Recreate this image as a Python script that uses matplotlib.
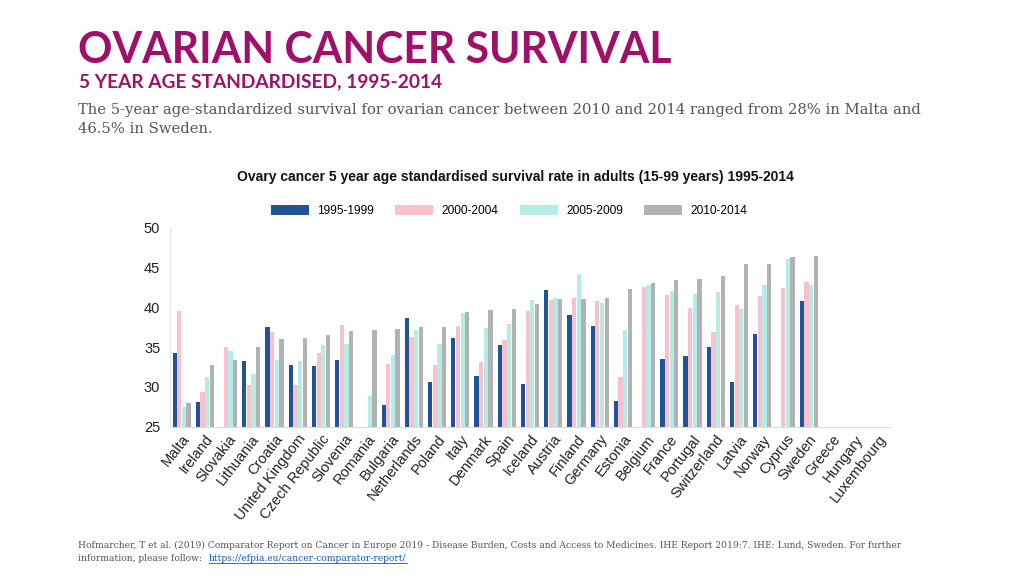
import numpy as np
import matplotlib.pyplot as plt
from matplotlib.patches import Patch

countries = ['Malta', 'Ireland', 'Slovakia', 'Lithuania', 'Croatia', 'United Kingdom',
             'Czech Republic', 'Slovenia', 'Romania', 'Bulgaria', 'Netherlands', 'Poland',
             'Italy', 'Denmark', 'Spain', 'Iceland', 'Austria', 'Finland', 'Germany',
             'Estonia', 'Belgium', 'France', 'Portugal', 'Switzerland', 'Latvia', 'Norway',
             'Cyprus', 'Sweden', 'Greece', 'Hungary', 'Luxembourg']
nan = np.nan
p1995 = [34.2, 28.1, nan, 33.2, 37.5, 32.8, 32.6, 33.4, nan, 27.7, 38.7, 30.6,
         36.1, 31.3, 35.3, 30.4, 42.2, 39.1, 37.7, 28.2, nan, 33.5, 33.9, 35.0,
         30.6, 36.7, nan, 40.8, nan, nan, nan]
p2000 = [39.6, 29.4, 35.0, 30.2, 36.9, 30.2, 34.3, 37.8, nan, 32.9, 36.3, 32.7,
         37.7, 33.1, 35.9, 39.6, 40.9, 41.2, 40.8, 31.2, 42.6, 41.5, 39.9, 36.9,
         40.3, 41.4, 42.5, 43.2, nan, nan, nan]
p2005 = [27.5, 31.2, 34.5, 31.6, 33.4, 33.2, 35.3, 35.4, 28.8, 34.0, 37.1, 35.4,
         39.3, 37.4, 37.9, 40.9, 41.2, 44.2, 40.6, 37.1, 42.8, 42.1, 41.7, 42.0,
         39.8, 42.8, 46.1, 42.8, nan, nan, nan]
p2010 = [28.0, 32.8, 33.4, 35.0, 36.0, 36.2, 36.5, 37.0, 37.2, 37.3, 37.5, 37.5,
         39.4, 39.7, 39.8, 40.4, 41.0, 41.1, 41.2, 42.3, 43.1, 43.5, 43.6, 44.0,
         45.5, 45.5, 46.4, 46.5, nan, nan, nan]
periods = ['1995-1999', '2000-2004', '2005-2009', '2010-2014']
colors = ['#1f5597', '#f9c1cc', '#b5ede6', '#b2b2b2']

W, H = 1024, 576
fig = plt.figure(figsize=(W / 100, H / 100), dpi=100)
fig.patch.set_facecolor('white')

purple = '#a0106a'
grey_txt = '#555555'
fig.text(78 / W, 1 - 63 / H, 'OVARIAN CANCER SURVIVAL', fontsize=30.7, fontweight='bold',
         color=purple, family='Lato', va='baseline')
fig.text(79 / W, 1 - 87 / H, '5 YEAR AGE STANDARDISED, 1995-2014', fontsize=13.8,
         fontweight='bold', color=purple, family='Lato', va='baseline')
fig.text(78 / W, 1 - 114 / H,
         'The 5-year age-standardized survival for ovarian cancer between 2010 and 2014 ranged from 28% in Malta and',
         fontsize=10.6, color=grey_txt, family='DejaVu Serif', va='baseline')
fig.text(78 / W, 1 - 133 / H, '46.5% in Sweden.', fontsize=10.6, color=grey_txt,
         family='DejaVu Serif', va='baseline')

fig.text(78 / W, 1 - 548 / H,
         'Hofmarcher, T et al. (2019) Comparator Report on Cancer in Europe 2019 - Disease Burden, Costs and Access to Medicines. IHE Report 2019:7. IHE: Lund, Sweden. For further',
         fontsize=6.6, color=grey_txt, family='DejaVu Serif', va='baseline')
fig.text(78 / W, 1 - 561 / H, 'information, please follow:', fontsize=6.6, color=grey_txt,
         family='DejaVu Serif', va='baseline')
link = fig.text(209 / W, 1 - 561 / H, 'https://efpia.eu/cancer-comparator-report/', fontsize=6.6,
                color='#1a55c8', family='DejaVu Serif', va='baseline')
bb = link.get_window_extent(renderer=fig.canvas.get_renderer())
fig.add_artist(plt.Line2D([bb.x0 / W, bb.x1 / W], [1 - 563 / H, 1 - 563 / H],
                          color='#1a55c8', lw=0.6))

fig.text(515 / W, 1 - 177 / H,
         'Ovary cancer 5 year age standardised survival rate in adults (15-99 years) 1995-2014',
         fontsize=10, fontweight='bold', color='#111111', family='Liberation Sans',
         ha='center', va='center')

ax = fig.add_axes([170 / W, 1 - 426.5 / H, 720 / W, (426.5 - 228) / H])
x = np.arange(len(countries))
w = 0.2
for k, (vals, c) in enumerate(zip([p1995, p2000, p2005, p2010], colors)):
    v = np.array(vals, dtype=float)
    ax.bar(x + (k - 1.5) * w, v - 25, bottom=25, width=w * 0.92, color=c, linewidth=0)

ax.set_xlim(-0.5, len(countries) - 0.5)
ax.set_ylim(25, 50)
ax.set_yticks([25, 30, 35, 40, 45, 50])
ax.tick_params(axis='y', length=0, pad=7, labelsize=10.5, labelcolor='#222222')
ax.set_xticks(x)
ax.set_xticklabels(countries, rotation=52, ha='right', rotation_mode='anchor',
                   fontsize=10.5, color='#222222', family='Liberation Sans')
ax.tick_params(axis='x', length=0, pad=4)
for lab in ax.get_yticklabels():
    lab.set_family('Liberation Sans')
for s in ['top', 'right']:
    ax.spines[s].set_visible(False)
ax.spines['left'].set_color('#e8e8e8')
ax.spines['bottom'].set_color('#dddddd')

handles = [Patch(facecolor=c, edgecolor='none') for c in colors]
fig.legend(handles, periods, loc='center', bbox_to_anchor=(509 / W, 1 - 211 / H), ncol=4,
           frameon=False, prop={'family': 'Liberation Sans', 'size': 8.6},
           handlelength=3.2, handleheight=1.0, handletextpad=0.68, columnspacing=1.78)

fig.savefig('out.png', dpi=100)
